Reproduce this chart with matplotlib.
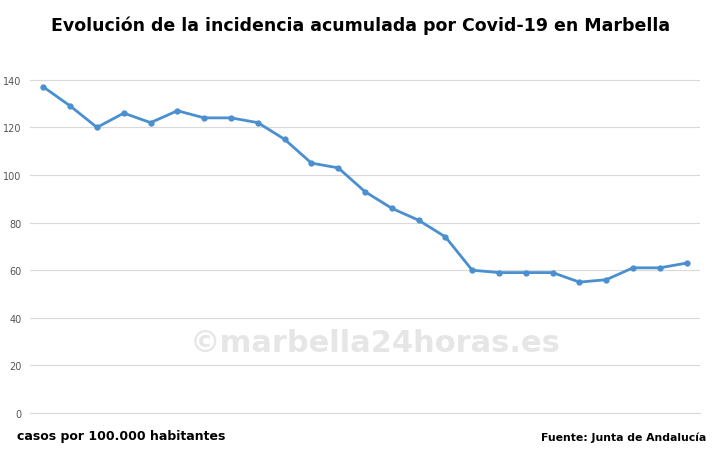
import matplotlib
matplotlib.use("Agg")
import matplotlib.pyplot as plt

values = [137,129,120,126,122,127,124,124,122,115,105,103,93,86,81,74,60,59,59,59,55,56,61,61,63]
yticks = [0,20,40,60,80,100,120,140]

fig = plt.figure(figsize=(7.22,4.6), dpi=100)
ax = fig.add_axes([30/722, 46/460, 670/722, 357/460])
x = list(range(len(values)))
ax.plot(x, values, color="#4a8fd0", lw=2.0, marker="o", ms=3.5)
ax.set_xlim(-0.5, len(values)-0.5)
ax.set_ylim(0, 150)
ax.set_yticks(yticks)
ax.set_xticks([])
ax.tick_params(axis="y", length=0, labelsize=7, colors="#555555", pad=6)
ax.grid(axis="y", color="#d9d9d9", lw=0.8)
for s in ["top","right","left"]:
    ax.spines[s].set_visible(False)
ax.spines["bottom"].set_color("#d9d9d9")
ax.set_axisbelow(True)
fig.text(0.5, 0.943, "Evolución de la incidencia acumulada por Covid-19 en Marbella",
         ha="center", va="center", fontsize=12.5, fontweight="bold")
fig.text(17/722, 1-437/460, "casos por 100.000 habitantes", fontsize=9, fontweight="bold", va="center")
fig.text(706/722, 1-438/460, "Fuente: Junta de Andalucía", fontsize=7.8, fontweight="bold", va="center", ha="right")
fig.text(190/722, 1-344/460, "©marbella24horas.es", fontsize=22, fontweight="bold", color="#e6e6e6", va="center")
fig.savefig("out.png", dpi=100)
